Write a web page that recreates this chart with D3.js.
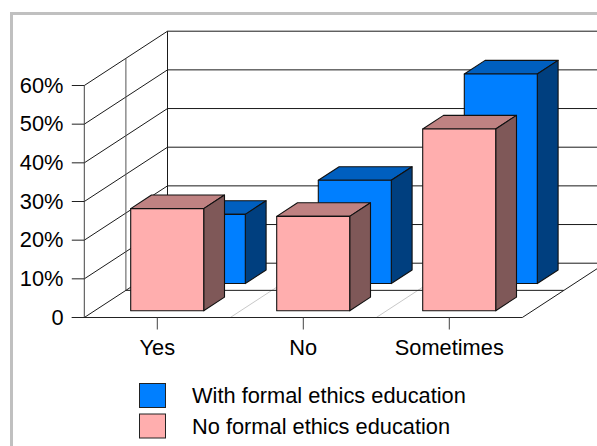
<!DOCTYPE html>
<html>
<head>
<meta charset="utf-8">
<script src="https://cdn.jsdelivr.net/npm/d3@7/dist/d3.min.js"></script>
<style>
html, body { margin: 0; padding: 0; background: #fff; }
svg { display: block; }
text { font-family: "Liberation Sans", Arial, sans-serif; fill: #000; }
</style>
</head>
<body>
<svg id="chart" width="597" height="446"></svg>
<script>
// Survey answers, in percent
const categories = ["Yes", "No", "Sometimes"];
const withEducation = [17.9, 26.7, 54.2];
const noEducation = [26.4, 24.4, 47.0];
const yTickValues = [0, 10, 20, 30, 40, 50, 60];
const yTickLabels = ["0", "10%", "20%", "30%", "40%", "50%", "60%"];
const seriesNames = ["With formal ethics education", "No formal ethics education"];
const seriesFill = ["#007fff", "#ffaeae"];
const seriesTop = ["#005fbf", "#bf8282"];
const seriesSide = ["#003f7f", "#7f5858"];
const seriesDepth = [0.625, 0.125];

const svg = d3.select("#chart");

// Frame around the chart, running off the right and bottom edges
svg.append("path")
  .attr("d", "M11.5,446V13.5H597")
  .attr("fill", "none")
  .attr("stroke", "#c0c0c0")
  .attr("stroke-width", 3);

const x = d3.scaleBand().domain(categories).range([84.3, 522.3]).paddingInner(0).paddingOuter(0);
const y = d3.scaleLinear().domain([0, 60]).range([317.5, 85.5]);
// Oblique projection of the depth axis
const depthX = d3.scaleLinear().domain([0, 1]).range([0, 83.2]);
const depthY = d3.scaleLinear().domain([0, 1]).range([0, -54.3]);

const x0 = x.range()[0], x1 = x.range()[1];
const base = y(0);
const grid = svg.append("g").attr("fill", "none").attr("stroke", "#1a1a1a").attr("stroke-width", 1);
const seg = (g, a, b, c, d) => g.append("line").attr("x1", a).attr("y1", b).attr("x2", c).attr("y2", d);

// Light separators on the floor between categories
categories.slice(1).forEach(c => {
  seg(grid, x(c), base, x(c) + depthX(1), base + depthY(1)).attr("stroke", "#c8c8c8");
});

// Wall gridlines: diagonal on the left wall, horizontal on the back wall
yTickValues.forEach(v => {
  const yy = y(v);
  seg(grid, x0, yy, x0 + depthX(1), yy + depthY(1));
  seg(grid, x0 + depthX(1), yy + depthY(1), x1 + depthX(1), yy + depthY(1));
});

// Back corner, mid-depth line and floor edges
seg(grid, x0 + depthX(1), y(60) + depthY(1), x0 + depthX(1), base + depthY(1));
seg(grid, x0 + depthX(0.5), y(60) + depthY(0.5), x0 + depthX(0.5), base + depthY(0.5)).attr("stroke", "#555");
seg(grid, x0 + depthX(0.5), base + depthY(0.5), x1 + depthX(0.5), base + depthY(0.5));
seg(grid, x1, base, x1 + depthX(1), base + depthY(1));

// Boxes: far series first so the near one overlaps it
const bars = svg.append("g").attr("stroke", "#111").attr("stroke-width", 1.1).attr("stroke-linejoin", "round");
const bandGap = x.bandwidth() * 0.2466;
const barWidth = x.bandwidth() * 0.5;
const barThick = 0.25;

[withEducation, noEducation].forEach((values, s) => {
  const g = bars.append("g");
  categories.forEach((c, i) => {
    const d0 = seriesDepth[s];
    const left = x(c) + bandGap + depthX(d0);
    const right = left + barWidth;
    const bottom = y(0) + depthY(d0);
    const top = y(values[i]) + depthY(d0);
    const ox = depthX(barThick), oy = depthY(barThick);
    g.append("polygon")
      .attr("points", [[left, top], [right, top], [right + ox, top + oy], [left + ox, top + oy]].join(" "))
      .attr("fill", seriesTop[s]);
    g.append("polygon")
      .attr("points", [[right, top], [right + ox, top + oy], [right + ox, bottom + oy], [right, bottom]].join(" "))
      .attr("fill", seriesSide[s]);
    g.append("rect")
      .attr("x", left).attr("y", top)
      .attr("width", barWidth).attr("height", bottom - top)
      .attr("fill", seriesFill[s]);
  });
});

// Front axes
const axes = svg.append("g").attr("stroke", "#222").attr("stroke-width", 1).attr("fill", "none");
seg(axes, x0, y(60), x0, base).attr("stroke", "#444");
seg(axes, x0 - 12.5, base, x1, base);
yTickValues.forEach(v => seg(axes, x0 - 12.5, y(v), x0, y(v)));
categories.forEach(c => {
  const cx = x(c) + x.bandwidth() / 2;
  seg(axes, cx, base, cx, base + 12).attr("stroke", "#444");
});

// Axis labels
svg.append("g").selectAll("text").data(yTickValues).join("text")
  .attr("x", 63.5)
  .attr("y", d => y(d) + 7)
  .attr("text-anchor", "end")
  .attr("font-size", 21.8)
  .text((d, i) => yTickLabels[i]);

svg.append("g").selectAll("text").data(categories).join("text")
  .attr("x", d => x(d) + x.bandwidth() / 2)
  .attr("y", 355)
  .attr("text-anchor", "middle")
  .attr("font-size", 21.8)
  .text(d => d);

// Legend
const legendRow = d3.scalePoint().domain(seriesNames).range([383.5, 414]);
const legend = svg.append("g").selectAll("g").data(seriesNames).join("g");
legend.append("rect")
  .attr("x", 139.5).attr("y", d => legendRow(d))
  .attr("width", 26).attr("height", 24)
  .attr("fill", (d, i) => seriesFill[i])
  .attr("stroke", "#222");
legend.append("text")
  .attr("x", 192).attr("y", d => legendRow(d) + 19.7)
  .attr("font-size", 21.8)
  .text(d => d);
</script>
</body>
</html>
